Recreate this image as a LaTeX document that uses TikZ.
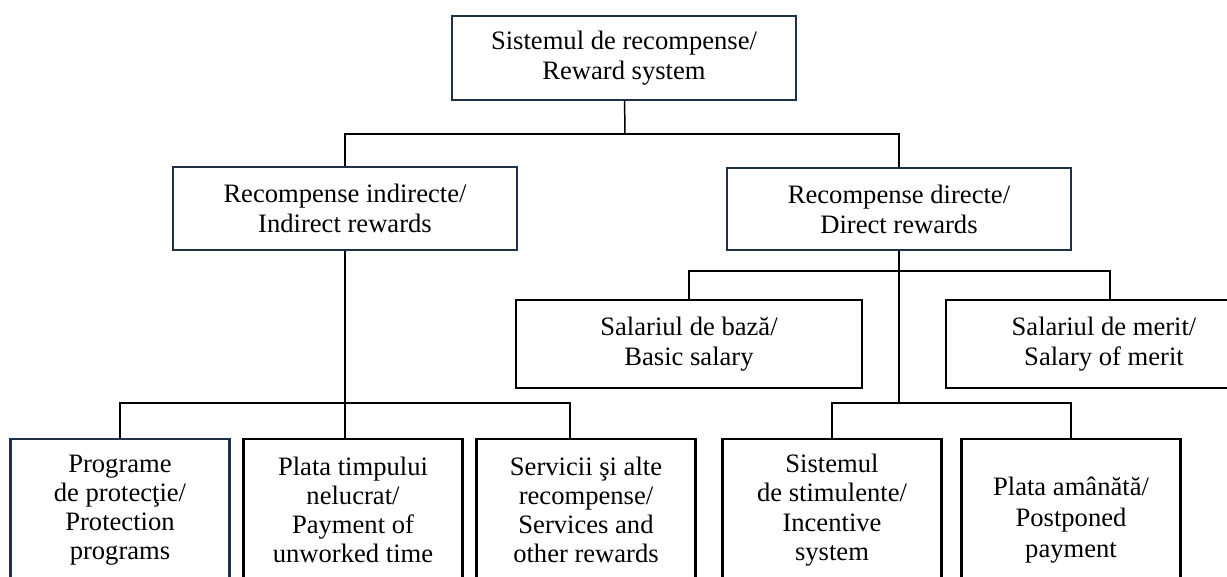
\documentclass[tikz,border=0pt]{standalone}
\usepackage{fontspec}
\setmainfont{Liberation Serif}
\usepackage{tikz}
\usetikzlibrary{positioning}
\definecolor{boxnavy}{HTML}{1F3049}
\tikzset{
  box/.style = {draw=black, line width=1.1pt, align=center, inner sep=0pt,
    text centered, font=\fontsize{13.3}{15}\selectfont},
  nbox/.style = {box, draw=boxnavy},
  low/.style = {box, anchor=north, minimum width=109.5pt, minimum height=71pt,
    font=\fontsize{13.3}{14.6}\selectfont},
  link/.style = {line width=0.75pt, black}
}
\begin{document}
\begin{tikzpicture}[x=0.5pt, y=-0.5pt]
\clip (0,0) rectangle (1227,577);
% upper levels
\node [nbox, minimum width=172pt, minimum height=42pt] (top) at (624,58)
  {Sistemul de recompense/\\Reward system};
\node [nbox, minimum width=172pt, minimum height=41.5pt] (ind) at (345,208.5)
  {Recompense indirecte/\\Indirect rewards};
\node [nbox, minimum width=172pt, minimum height=41pt] (dir) at (899,209)
  {Recompense directe/\\Direct rewards};
\node [box, minimum width=173pt, minimum height=44pt] (basic) at (689,344)
  {Salariul de baz\u{a}/\\Basic salary};
\node [box, minimum width=158pt, minimum height=44pt] (merit) at (1104,344)
  {Salariul de merit/\\Salary of merit};
% bottom row
\node [low, draw=boxnavy] (prog) at (120,438)
  {Programe\\de protec\c{t}ie/\\Protection\\programs};
\node [low] (plata) at (353,438) {Plata timpului\\nelucrat/\\Payment of\\unworked time};
\node [low] (serv) at (586,438) {Servicii \c{s}i alte\\recompense/\\Services and\\other rewards};
\node [low] (stim) at (832,438) {Sistemul\\de stimulente/\\Incentive\\system};
\node [low, minimum height=81pt, font=\fontsize{13.3}{15.3}\selectfont] (post) at (1071,438)
  {Plata am\^an\u{a}t\u{a}/\\Postponed\\payment};
% connectors
\coordinate (j1) at (625,134);
\coordinate (j2) at (899,271);
\coordinate (j3) at (899,403);
\coordinate (j4) at (345,403);
\draw [link] (top) -- (j1);
\draw [link] (ind) |- (j1) -| (dir);
\draw [link] (dir) -- (j3);
\draw [link] (basic) |- (j2) -| ([xshift=3pt]merit.north);
\draw [link] (stim) |- (j3) -| (post);
\draw [link] (ind.south) -- (ind.south |- plata.north);
\draw [link] (prog) |- (j4) -| ([xshift=-8pt]serv.north);
\end{tikzpicture}
\end{document}
